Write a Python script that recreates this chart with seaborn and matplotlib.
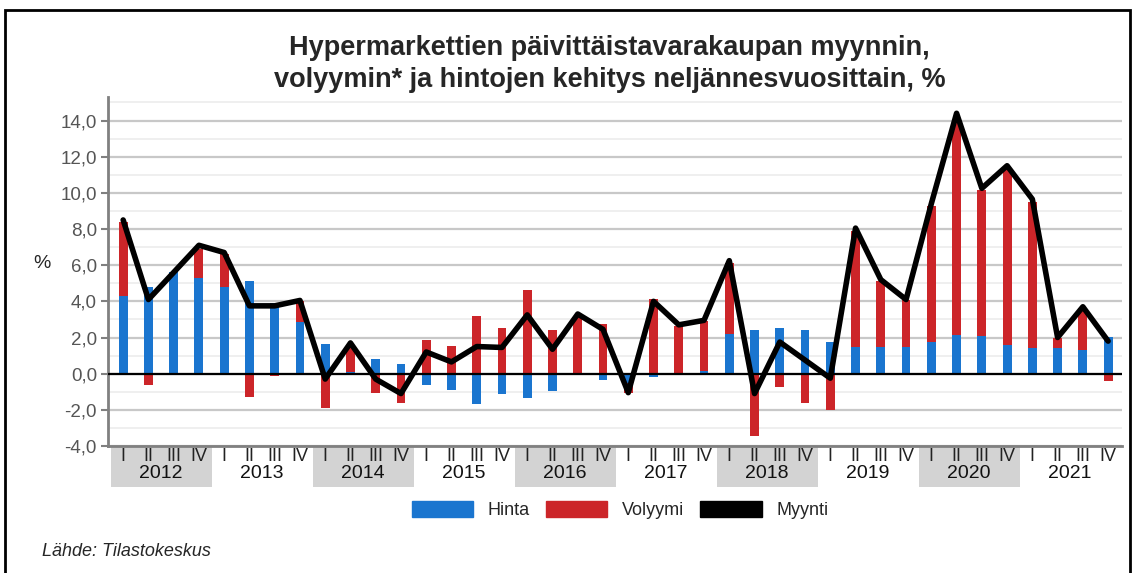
import matplotlib
matplotlib.use("Agg")
import matplotlib.pyplot as plt
from matplotlib.patches import Patch, Rectangle
import matplotlib.transforms as mtransforms
import numpy as np
import pandas as pd
import seaborn as sns

# data
years = ["2012", "2013", "2014", "2015", "2016", "2017", "2018", "2019", "2020", "2021"]
quarters = ["I", "II", "III", "IV"]
hinta = [4.3, 4.8, 5.6, 5.3,  4.8, 5.15, 3.9, 2.85,  1.65, 0.1, 0.8, 0.55,
         -0.65, -0.9, -1.7, -1.1,  -1.35, -0.95, 0.05, -0.35,  -0.5, -0.2, -0.1, 0.17,
         2.2, 2.4, 2.5, 2.4,  1.77, 1.5, 1.5, 1.5,  1.77, 2.15, 2.1, 1.6,
         1.4, 1.4, 1.3, 2.05]
volyymi = [4.1, -0.65, 0.0, 1.6,  1.8, -1.3, -0.15, 1.15,  -1.9, 1.5, -1.05, -1.6,
           1.85, 1.55, 3.2, 2.55,  4.65, 2.4, 3.15, 2.75,  -0.55, 4.15, 2.65, 2.75,
           3.9, -3.45, -0.75, -1.6,  -2.0, 6.4, 3.65, 2.55,  7.5, 11.8, 8.05, 9.7,
           8.1, 0.6, 2.35, -0.4]
myynti = [8.5, 4.1, 5.6, 7.1,  6.7, 3.75, 3.75, 4.05,  -0.3, 1.7, -0.3, -1.1,
          1.2, 0.65, 1.5, 1.45,  3.25, 1.35, 3.3, 2.45,  -1.05, 4.0, 2.7, 2.95,
          6.25, -1.1, 1.75, 0.75,  -0.25, 8.05, 5.2, 4.1,  9.4, 14.4, 10.25, 11.5,
          9.65, 2.0, 3.7, 1.8]

df = pd.DataFrame({
    "kausi": [f"{y} {q}" for y in years for q in quarters],
    "neljannes": quarters * len(years),
    "hinta": hinta,
    "volyymi": volyymi,
    "myynti": myynti,
})
df["pos"] = np.arange(len(df))
# red stacks on blue only when both have the same sign
df["vol_bottom"] = np.where(np.sign(df["hinta"]) == np.sign(df["volyymi"]), df["hinta"], 0.0)

blue = "#1a75cf"
red = "#cc2529"

sns.set_style("white")
plt.rcParams["font.family"] = ["Liberation Sans", "DejaVu Sans"]

fig = plt.figure(figsize=(11.35, 5.73), dpi=100)
ax = fig.add_axes([108 / 1135, 1 - 446 / 573, (1122 - 108) / 1135, (446 - 97) / 573])

sns.barplot(data=df, x="kausi", y="hinta", color=blue, width=0.35, saturation=1,
            errorbar=None, ax=ax, zorder=3, linewidth=0)
sns.barplot(data=df, x="kausi", y="volyymi", color=red, width=0.35, saturation=1,
            errorbar=None, ax=ax, zorder=3, linewidth=0, bottom=df["vol_bottom"].values)
ax.axhline(0, color="black", lw=1.6, zorder=4)
sns.lineplot(data=df, x="pos", y="myynti", color="black", lw=4.0, sort=False,
             ax=ax, zorder=5, legend=False)

# axes
ax.set_ylim(-4.0, 15.3)
ax.set_xlim(-0.6, len(df) - 0.45)
ax.set_yticks(np.arange(-4, 15, 2))
ax.set_yticks(np.arange(-4, 16, 1), minor=True)
ax.set_yticklabels([f"{v:.1f}".replace(".", ",") for v in np.arange(-4, 15, 2)])
ax.grid(axis="y", which="major", color="#c8c8c8", lw=1.6, zorder=0)
ax.grid(axis="y", which="minor", color="#ececec", lw=1.2, zorder=0)
ax.tick_params(axis="y", which="major", length=5, width=1.5, color="#808080",
               labelsize=13.5, labelcolor="#555555", pad=3, left=True)
ax.tick_params(axis="y", which="minor", length=0)
ax.set_xticks(df["pos"])
ax.set_xticklabels(df["neljannes"])
ax.tick_params(axis="x", length=0, labelsize=13, pad=1.5, labelcolor="#222222")
ax.set_xlabel("")
ax.set_ylabel("%", rotation=0, fontsize=14, labelpad=0)
ax.yaxis.set_label_coords(-0.065, 0.5)
for s in ["top", "right"]:
    ax.spines[s].set_visible(False)
for s in ["left", "bottom"]:
    ax.spines[s].set_color("#808080")
    ax.spines[s].set_linewidth(2)

# year groups under the quarter labels
trans = mtransforms.blended_transform_factory(ax.transData, ax.transAxes)
for i, y in enumerate(years):
    start = i * 4 - 0.5
    if i % 2 == 0:
        ax.add_patch(Rectangle((start, -0.117), 4, 0.117, transform=trans,
                               facecolor="#d3d3d3", edgecolor="none", clip_on=False, zorder=0))
    ax.text(start + 2, -0.08, y, transform=trans, ha="center", va="center",
            fontsize=14, color="#111111")

fig.text(0.537, 1 - 48 / 573, "Hypermarkettien päivittäistavarakaupan myynnin,",
         ha="center", va="center", fontsize=19.5, fontweight="bold")
fig.text(0.537, 1 - 80 / 573, "volyymin* ja hintojen kehitys neljännesvuosittain, %",
         ha="center", va="center", fontsize=19.5, fontweight="bold")

handles = [Patch(color=blue, label="Hinta"), Patch(color=red, label="Volyymi"),
           Patch(color="black", label="Myynti")]
fig.legend(handles=handles, loc="center", bbox_to_anchor=(620 / 1135, 1 - 510 / 573),
           ncol=3, frameon=False, fontsize=13, handlelength=3.4, handleheight=1.0,
           handletextpad=0.8, columnspacing=0.9)

fig.text(42 / 1135, 1 - 551 / 573, "Lähde: Tilastokeskus", ha="left", va="center",
         fontsize=13, style="italic")

fig.add_artist(Rectangle((5 / 1135, -0.05), 1125 / 1135, 1.05 - 10 / 573,
                         transform=fig.transFigure, fill=False, edgecolor="black", lw=2))

plt.savefig("out.png", dpi=100)
